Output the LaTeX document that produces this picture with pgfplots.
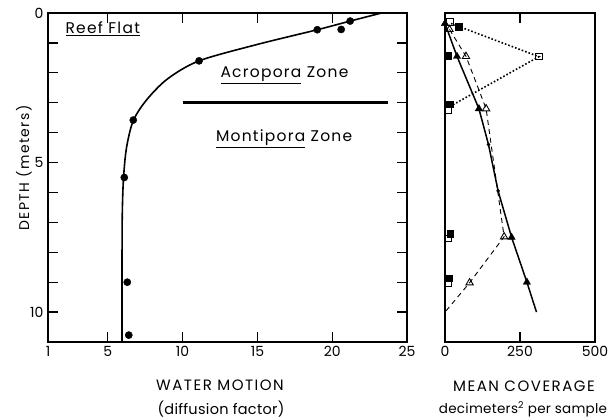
\documentclass[border=0pt]{standalone}
\usepackage{pgfplots}
\pgfplotsset{compat=1.18}
\usepackage{fontspec}
\setmainfont{Poppins}
\newfontfamily\capfont[LetterSpace=10]{Poppins}
\newfontfamily\lowfont[LetterSpace=2]{Poppins}
\newfontfamily\zonefont[LetterSpace=8]{Poppins}
\begin{document}
\begin{tikzpicture}
\useasboundingbox (0,0) rectangle (616pt,419pt);
\pgfplotsset{
  every axis/.append style={
    scale only axis, anchor=south west,
    y dir=reverse, ymin=0, ymax=11,
    tick align=inside, major tick length=10pt, minor tick length=10pt,
    axis line style={line width=1.4pt}, every tick/.style={black, line width=1.2pt},
    tick label style={font=\fontsize{14}{14}\selectfont},
    /pgf/number format/assume math mode=true,
    clip=false,
  }
}
% left panel
\begin{axis}[
  at={(48pt,77pt)}, width=359pt, height=329pt,
  xmin=1, xmax=25, xtick={1,5,10,15,20,25},
  ytick={0,5,10}, minor ytick={1,2,3,4,6,7,8,9},
  yticklabel style={xshift=-1pt},
  xticklabel style={yshift=-1pt},
]
\addplot[smooth, tension=0.5, line width=1.6pt] coordinates {
 (23.3,0) (21.2,0.27) (19.0,0.56) (15.0,1.05) (11.1,1.6) (9.0,2.2) (7.6,2.9) (6.7,3.6) (6.25,4.5) (6.05,5.5) (5.97,6.6) (5.95,8) (5.95,11)};
\addplot[only marks, mark=*, mark size=3.6pt] coordinates {
 (21.2,0.27) (20.6,0.55) (19.0,0.56) (11.1,1.6) (6.7,3.58) (6.1,5.5) (6.3,9.0) (6.4,10.77)};
\addplot[line width=3pt] coordinates {(10,3) (23.7,3)};
\node[anchor=base west, font=\fontsize{15.5}{15.5}\zonefont] at (axis cs:1.94,0.70) {\underline{Reef Flat}};
\node[anchor=base west, font=\fontsize{15.5}{15.5}\zonefont] at (axis cs:12.3,2.17) {\underline{Acropora} Zone};
\node[anchor=base west, font=\fontsize{15.5}{15.5}\zonefont] at (axis cs:12.0,4.31) {\underline{Montipora} Zone};
\end{axis}
% right panel
\begin{axis}[
  at={(445pt,77pt)}, width=150pt, height=329pt,
  xmin=0, xmax=500, xtick={0,250,500},
  ytick=\empty, minor ytick={1,2,3,4,5,6,7,8,9,10},
  xticklabel style={yshift=-1pt},
]
\addplot[line width=1.5pt] coordinates {
 (0,0.35) (40,1.45) (113,3.2) (145,4.4) (177,5.95) (222,7.5) (273,9.0) (305,10.0)};
\addplot[line width=0.9pt, dashed, dash pattern=on 5pt off 4pt] coordinates {
 (15,0.55) (70,1.45) (137,3.2) (197,7.48) (82,9.02) (0,10.0)};
\addplot[line width=1.6pt, dotted] coordinates {
 (20,0.35) (313,1.46) (12,3.15)};
\addplot[only marks, mark=*, mark size=1.6pt] coordinates {(145,4.4) (177,5.95)};
\addplot[only marks, mark=triangle*, mark size=4.2pt] coordinates {
 (0,0.35) (40,1.45) (113,3.2) (222,7.5) (273,9.0)};
\addplot[only marks, mark=triangle, mark size=4.2pt, mark options={fill=white, line width=0.9pt}] coordinates {
 (15,0.55) (70,1.45) (137,3.2) (197,7.48) (82,9.02)};
\addplot[only marks, mark=square, mark size=3.3pt, mark options={fill=white, line width=1pt}] coordinates {
 (17,0.3) (313,1.46) (10,3.24) (10,7.54) (10,9.04)};
\addplot[only marks, mark=square*, mark size=3.3pt] coordinates {
 (45,0.45) (10,1.43) (15,3.05) (17,7.37) (13,8.87)};
\end{axis}
% labels
\node[font=\fontsize{15}{15}\capfont] at (220pt,34pt) {WATER MOTION};
\node[font=\fontsize{14.5}{14.5}\lowfont] at (221pt,10pt) {(diffusion factor)};
\node[font=\fontsize{15}{15}\capfont] at (524pt,33pt) {MEAN COVERAGE};
\node[font=\fontsize{13.5}{13.5}\lowfont] at (523pt,10pt) {decimeters\textsuperscript{2} per sample};
\node[rotate=90, font=\fontsize{14}{14}\capfont] at (24pt,251pt) {DEPTH (meters)};
\end{tikzpicture}
\end{document}
